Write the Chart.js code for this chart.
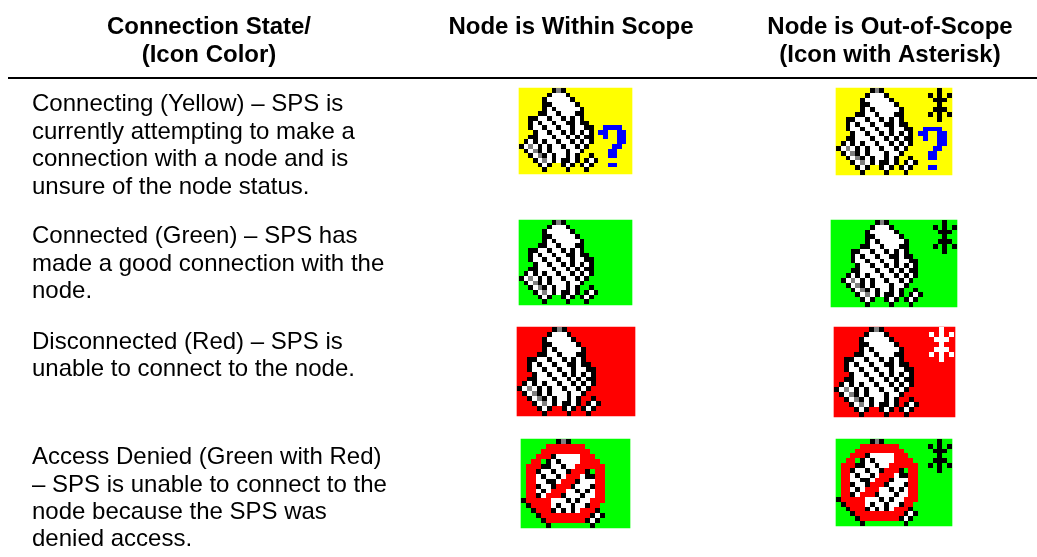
<!DOCTYPE html>
<html>
<head>
<meta charset="utf-8">
<title>Connection states</title>
<script src="https://cdn.jsdelivr.net/npm/chart.js@4/dist/chart.umd.min.js"></script>
<style>
html, body { margin: 0; padding: 0; background: #fff; }
canvas { display: block; }
</style>
</head>
<body>
<canvas id="chartCanvas" width="1037" height="557"></canvas>
<script>
// Textos de la tabla
const headerLabels = [
    ['Connection State/', '(Icon Color)'],
    ['Node is Within Scope'],
    ['Node is Out-of-Scope', '(Icon with Asterisk)']
];
const stateLabels = [
    ['Connecting (Yellow) \u2013 SPS is', 'currently attempting to make a', 'connection with a node and is', 'unsure of the node status.'],
    ['Connected (Green) \u2013 SPS has', 'made a good connection with the', 'node.'],
    ['Disconnected (Red) \u2013 SPS is', 'unable to connect to the node.'],
    ['Access Denied (Green with Red)', '\u2013 SPS is unable to connect to the', 'node because the SPS was', 'denied access.']
];

// Iconos: k negro, w blanco, g gris, r rojo, b azul
const nodeIcon = [
    '.......kgk',
    '......kwwwk',
    '.....kwwwwwk',
    '.....kkwwwwwk',
    '.....kwkwwwwwk',
    '....kkwwkwwwkk',
    '..kkwwkwwkwkwk',
    '..kwkwwkwwkkwkk',
    '..kwwkwwkwwkwwkk',
    '...kwwkwwkwkwkwk',
    '..kkwwwkwwkwkwkk',
    '.kwkwkwwkwwkwkwk',
    'kwgwkwkwwkwwkwk',
    '.kwgkwkwwwkwwk',
    '..kwgkwkwwkwk..k',
    '...kwgwkwkkwk.kwk',
    '....kwk..kwk.kwk',
    '.....k....k...k'
];
const deniedIcon = [
    '.......kgk',
    '.....rrrrrrrr',
    '....rrrrrrrrrr',
    '...rrrkwwwwwrrr',
    '..rr.kwkwwwwrrrr',
    '.rrrkkwwkwwrrrrrr',
    '.rrkwwkwwkrrrk.rr',
    '.rrwkwwkwrrrwkkrr',
    '.rrwwkkwrrrkwwwrr',
    '.rrkwwkrrrkwwwkrr',
    '.rrwkwrrrwwkwkwrr',
    '.rrkwrrrkwwwkwwrr',
    'krrrrrwwwkwkwwrrr',
    '.krrrrwkwwkwwkrr',
    '..krrrkwkwkwrrrk',
    '...krrrrrrrrrrkwk',
    '....krrrrrrrrkwk',
    '.....k........k'
];
const questionMark = [
    '.bbbb.',
    'bb..bb',
    '.b..bb',
    '....bb',
    '...bb.',
    '..bb..',
    '..bb..',
    '......',
    '..bb..'
];
const asterisk = [
    '..k..',
    'k.k.k',
    '.kkk.',
    '..k..',
    '.kkk.',
    'k.k.k',
    '..k..'
];

// Colocacion de cada icono en la tabla
const iconLayout = [
    { art: nodeIcon, bg: '#ffff00', box: [519, 632, 88, 174], x: 519, cell: 4.67, question: true },
    { art: nodeIcon, bg: '#ffff00', box: [836, 952, 88, 175], x: 836, cell: 4.83, question: true, star: '#000000' },
    { art: nodeIcon, bg: '#00ff00', box: [519, 632, 220, 305], x: 519, cell: 4.67 },
    { art: nodeIcon, bg: '#00ff00', box: [831, 957, 220, 307], x: 841, cell: 4.83, star: '#000000' },
    { art: nodeIcon, bg: '#ff0000', box: [517, 635, 327, 416], x: 517, cell: 4.95 },
    { art: nodeIcon, bg: '#ff0000', box: [834, 955, 327, 417], x: 834, cell: 5.0, star: '#ffffff' },
    { art: deniedIcon, bg: '#00ff00', box: [521, 630, 439, 528], x: 521, cell: 4.95 },
    { art: deniedIcon, bg: '#00ff00', box: [836, 952, 439, 526], x: 836, cell: 4.83, star: '#000000' }
];
const headerX = [209, 571, 890];
const headerY = [33.5, 62];
const bodyX = 32;
const bodyY = [[111, 139, 166, 194], [243, 271, 298], [349, 376], [464, 492, 519, 546]];

const palette = { k: '#000000', w: '#ffffff', g: '#808080', r: '#ff0000', b: '#0000ff' };
const cellPoints = { k: [], w: [], g: [], r: [], b: [] };

// Cada celda ocupa pixeles enteros; si no es cuadrada se cubre con dos cuadrados
function addArt(rows, icon, colOffset, rowOffset, starWhite) {
    rows.forEach((row, r) => {
        [...row].forEach((ch, c) => {
            if (ch === '.') return;
            const left = Math.round(icon.x + (c + colOffset) * icon.cell);
            const right = Math.round(icon.x + (c + colOffset + 1) * icon.cell);
            const top = Math.round(icon.box[2] + (r + rowOffset) * icon.cell);
            const bottom = Math.round(icon.box[2] + (r + rowOffset + 1) * icon.cell);
            const side = Math.min(right - left, bottom - top);
            const target = cellPoints[starWhite ? 'w' : ch];
            target.push({ x: left + side / 2, y: top + side / 2, side });
            target.push({ x: right - side / 2, y: bottom - side / 2, side });
        });
    });
}

iconLayout.forEach(icon => {
    addArt(icon.art, icon, 0, 0);
    if (icon.question) addArt(questionMark, icon, 17, 8);
    if (icon.star) addArt(asterisk, icon, 19, 0, icon.star === '#ffffff');
});

const datasets = iconLayout.map(icon => ({
    type: 'bar',
    data: [{ x: (icon.box[0] + icon.box[1]) / 2, y: [icon.box[2], icon.box[3]] }],
    backgroundColor: icon.bg,
    barThickness: icon.box[1] - icon.box[0],
    grouped: false,
    order: 20
}));

Object.keys(cellPoints).forEach(key => {
    datasets.push({
        type: 'scatter',
        data: cellPoints[key],
        backgroundColor: palette[key],
        pointStyle: 'rect',
        pointRadius: ctx => ctx.raw.side * Math.SQRT1_2,
        pointBorderWidth: 0,
        order: 10
    });
});
datasets.push({
    type: 'line',
    data: [{ x: 8, y: 78 }, { x: 1037, y: 78 }],
    borderColor: '#000000',
    borderWidth: 2,
    pointRadius: 0,
    order: 0
});

// Textos sobre el canvas
const tableText = {
    id: 'tableText',
    afterDatasetsDraw(chart) {
        const { ctx, scales: { x, y } } = chart;
        ctx.save();
        ctx.fillStyle = '#000000';
        ctx.textBaseline = 'alphabetic';
        ctx.font = 'bold 24px "Liberation Sans"';
        ctx.textAlign = 'center';
        headerLabels.forEach((lines, i) => {
            lines.forEach((line, j) => {
                ctx.fillText(line, x.getPixelForValue(headerX[i]), y.getPixelForValue(headerY[j]));
            });
        });
        ctx.font = '24px "Liberation Sans"';
        ctx.textAlign = 'left';
        stateLabels.forEach((lines, i) => {
            lines.forEach((line, j) => {
                ctx.fillText(line, x.getPixelForValue(bodyX), y.getPixelForValue(bodyY[i][j]));
            });
        });
        ctx.restore();
    }
};

new Chart(document.getElementById('chartCanvas').getContext('2d'), {
    data: { datasets },
    plugins: [tableText],
    options: {
        responsive: false,
        animation: false,
        events: [],
        layout: { padding: 0, autoPadding: false },
        plugins: { legend: { display: false }, tooltip: { enabled: false } },
        scales: {
            x: { type: 'linear', min: 0, max: 1037, display: false, offset: false, grid: { offset: false } },
            y: { type: 'linear', min: 0, max: 557, reverse: true, display: false }
        }
    }
});
</script>
</body>
</html>
